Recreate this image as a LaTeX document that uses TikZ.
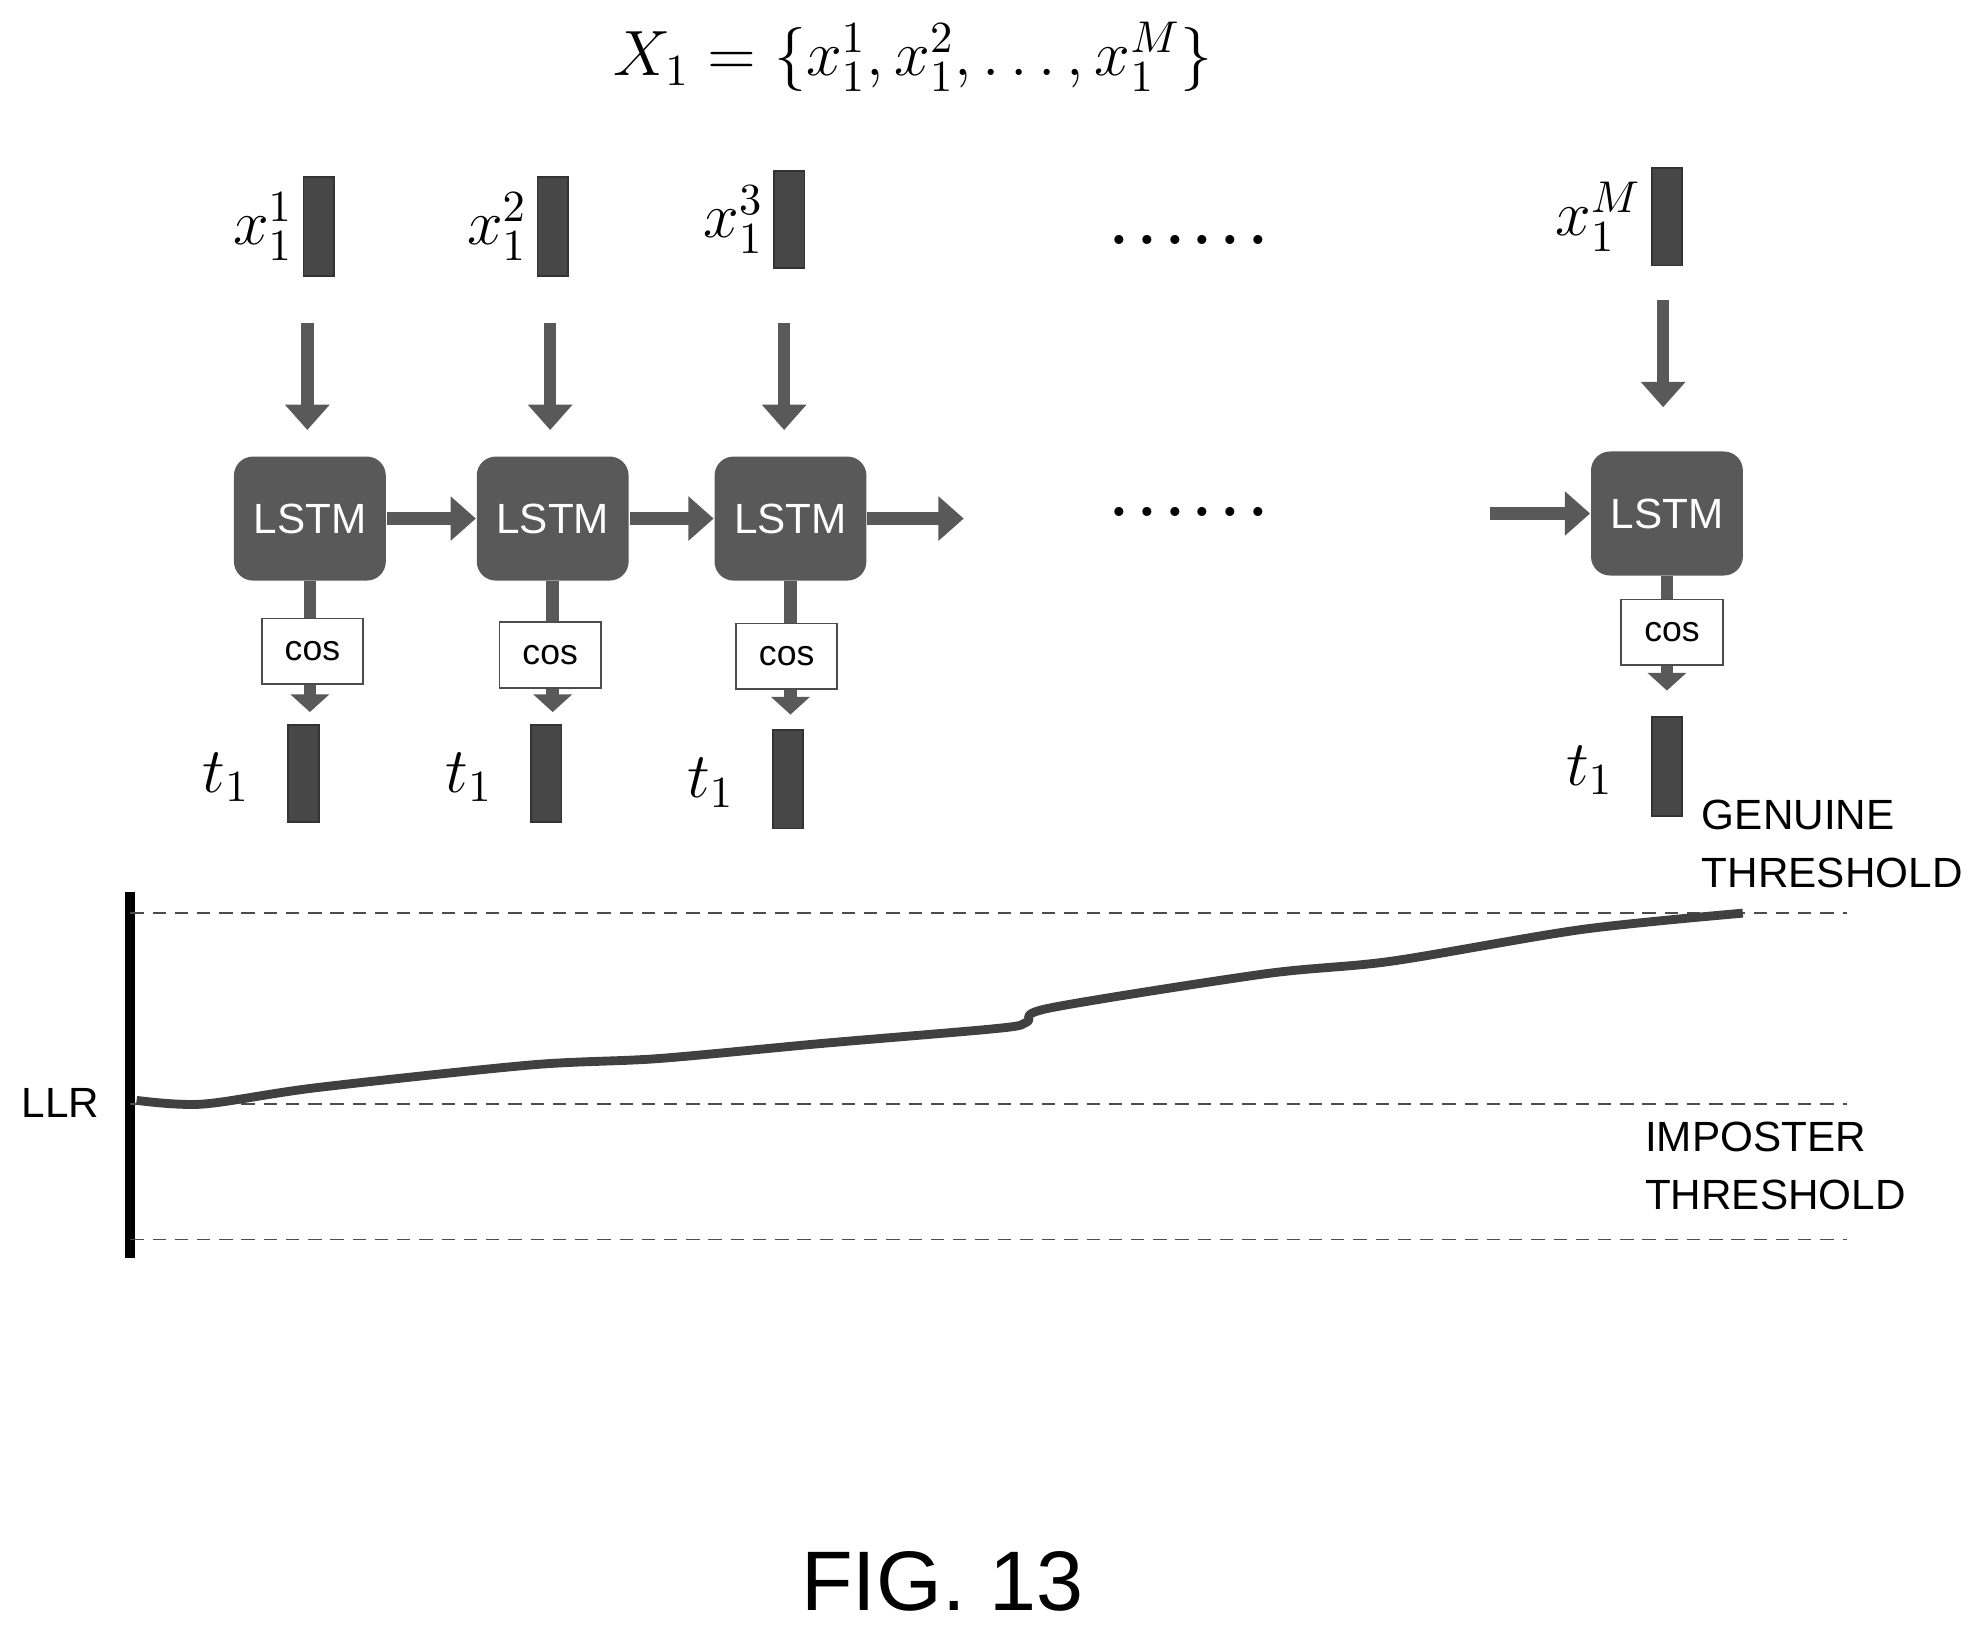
\documentclass[tikz,border=0pt]{standalone}
\usepackage{fontspec}
\setsansfont{Liberation Sans}
\usetikzlibrary{arrows.meta}
\begin{document}
\begin{tikzpicture}[x=0.01cm,y=-0.01cm,
 bar/.style={fill=black!72,draw=black!80,minimum width=0.24cm,inner sep=0},
 lstm/.style={fill=black!65,rounded corners=0.15cm,minimum width=1.2cm,minimum height=0.98cm,text=white,font=\sffamily\fontsize{9.5}{11}\selectfont},
 cosb/.style={fill=white,draw=black!70,minimum width=0.8cm,minimum height=0.52cm,font=\sffamily\footnotesize},
 barrow/.style={draw=black!65,line width=0.1cm,-{Triangle[width=0.34cm,length=0.2cm]}},
 stub/.style={draw=black!65,line width=0.1cm,-{Triangle[width=0.3cm,length=0.14cm]}},
 lab/.style={font=\Large},
 txt/.style={font=\sffamily\fontsize{9.5}{13}\selectfont},
 thr/.style={densely dashed,black!70,line width=0.4pt}]
\useasboundingbox (0,0) rectangle (1560,1287);
\node[font=\Large] (title) at (722,45) {$X_1=\{x_1^1,x_1^2,\dots,x_1^M\}$};
% inputs
\foreach \n/\x/\t/\b/\l in {a/252/140/218/1,b/437/140/218/2,c/624/135/212/3,d/1318/133/210/M}{
 \node[bar,minimum height={(\b-\t)*0.01cm}] (in\n) at (\x,{(\t+\b)/2}) {};
 \node[lab,anchor=east,inner sep=1pt] (lx\n) at ({\x-16},{(\t+\b)/2}) {$x_1^{\l}$};
}
\node[lstm] (L1) at (245,410) {LSTM};
\node[lstm] (L2) at (437,410) {LSTM};
\node[lstm] (L3) at (625,410) {LSTM};
\node[lstm] (L4) at (1318,406) {LSTM};
\coordinate (a1t) at (243,255); \coordinate (a1b) at (243,340);
\coordinate (a2t) at (435,255); \coordinate (a2b) at (435,340);
\coordinate (a3t) at (620,255); \coordinate (a3b) at (620,340);
\coordinate (a4t) at (1315,237); \coordinate (a4b) at (1315,322);
\foreach \i in {1,2,3,4}{\draw[barrow] (a\i t) -- (a\i b);}
\draw[barrow] (L1.east) -- (L2.west);
\draw[barrow] (L2.east) -- (L3.west);
\coordinate (out3) at (762,410);
\draw[barrow] (L3.east) -- (out3);
\coordinate (in4) at (1178,406);
\draw[barrow] (in4) -- (L4.west);
\node[font=\Huge] (d1) at (940,190) {......};
\node[font=\Huge] (d2) at (940,405) {......};
% t bars
\foreach \n/\x/\t/\b in {1/240/573/650,2/432/573/650,3/623/577/655,4/1318/567/645}{
 \node[bar,minimum height={(\b-\t)*0.01cm}] (t\n) at (\x,{(\t+\b)/2}) {};
 \node[lab,anchor=east] (lt\n) at ({\x-30},{(\t+\b)/2+3}) {$t_1$};
}
\foreach \i/\y in {1/563,2/563,3/565,4/546}{
 \coordinate (s\i) at (L\i.south |- 0,\y);
 \draw[stub] (L\i.south) -- (s\i);
}
\node[cosb] (c1) at (247,515) {cos};
\node[cosb] (c2) at (435,518) {cos};
\node[cosb] (c3) at (622,519) {cos};
\node[cosb] (c4) at (1322,500) {cos};
% graph
\coordinate (ax1) at (103,705); \coordinate (ax2) at (103,995);
\draw[line width=0.08cm] (ax1) -- (ax2);
\coordinate (g1) at (103,722); \coordinate (g2) at (1460,722);
\coordinate (i1) at (103,873); \coordinate (i2) at (1460,873);
\coordinate (b1) at (103,980); \coordinate (b2) at (1460,980);
\draw[thr] (g1)--(g2); \draw[thr] (i1)--(i2); \draw[thr] (b1)--(b2);
\node[txt] (llr) at (48,872) {LLR};
\draw[black!75,line width=0.07cm,line join=round] plot[smooth,tension=0.5] coordinates {(108,870) (160,873) (250,860) (420,842) (520,837) (650,825) (790,813) (812,808) (830,797) (1000,770) (1100,760) (1250,735) (1378,722)};
\node[txt,align=left,anchor=west,inner sep=0] (gen) at (1345,667) {GENUINE\\THRESHOLD};
\node[txt,align=left,anchor=west,inner sep=0] (imp) at (1300,922) {IMPOSTER\\THRESHOLD};
\node[font=\sffamily\fontsize{19}{23}\selectfont] (fig) at (745,1250) {FIG. 13};
\end{tikzpicture}
\end{document}
